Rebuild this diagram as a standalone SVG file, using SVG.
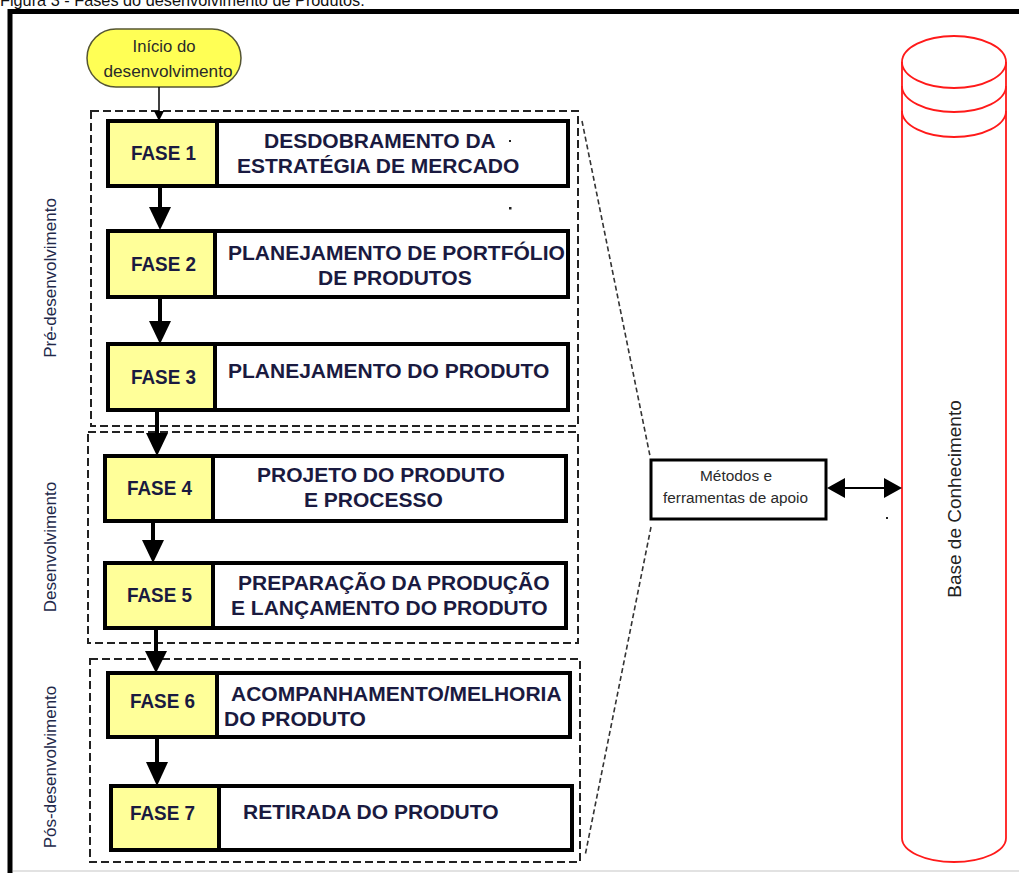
<svg xmlns="http://www.w3.org/2000/svg" width="1019" height="873" viewBox="0 0 1019 873">
<style>
.cap{font-family:"Liberation Sans",Arial,sans-serif;font-size:16.3px;fill:#111}
.fase{font-family:"Liberation Sans",Arial,sans-serif;font-size:20px;font-weight:bold;fill:#1a1a40}
.desc{font-family:"Liberation Sans",Arial,sans-serif;font-size:21px;font-weight:bold;fill:#1a1a40}
.small{font-family:"Liberation Sans",Arial,sans-serif;font-size:17px;fill:#2a2a2a}
.side{font-family:"Liberation Sans",Arial,sans-serif;font-size:17px;fill:#22284a}
.yel{fill:#ffff99;stroke:#000;stroke-width:4}
.wht{fill:#fff;stroke:#000;stroke-width:4}
.grp{fill:none;stroke:#222;stroke-width:2;stroke-dasharray:8 4}
.diag{fill:none;stroke:#333;stroke-width:1.6;stroke-dasharray:5 3}
.flow{stroke:#000;stroke-width:4;fill:none}
.cyl{fill:none;stroke:#ff1a1a;stroke-width:1.8}
</style>
<rect width="1019" height="873" fill="#fff"/>
<text class="cap" x="0" y="6">Figura 3 - Fases do desenvolvimento de Produtos.</text>
<rect x="10" y="11.5" width="1020" height="870" fill="none" stroke="#000" stroke-width="5"/>
<line x1="13" y1="871" x2="1019" y2="871" stroke="#d8d8d8" stroke-width="1.5"/>

<g id="groups">
<rect class="grp" x="91" y="111" width="487" height="315"/>
<rect class="grp" x="88" y="432" width="490" height="211"/>
<rect class="grp" x="90" y="659" width="490" height="203"/>
<text class="side" transform="translate(56,278) rotate(-90)" text-anchor="middle">Pré-desenvolvimento</text>
<text class="side" transform="translate(56,547) rotate(-90)" text-anchor="middle">Desenvolvimento</text>
<text class="side" transform="translate(56,767) rotate(-90)" text-anchor="middle">Pós-desenvolvimento</text>
</g>

<g id="start">
<rect x="87" y="29" width="154" height="58" rx="29" ry="29" fill="#ffff55" stroke="#555533" stroke-width="1.5"/>
<text class="small" x="164" y="52" text-anchor="middle" textLength="63" lengthAdjust="spacingAndGlyphs">Início do</text>
<text class="small" x="168" y="77" text-anchor="middle" textLength="129" lengthAdjust="spacingAndGlyphs">desenvolvimento</text>
</g>

<g id="fase1">
<rect class="wht" x="108" y="121" width="460" height="65"/>
<rect class="yel" x="108" y="121" width="109" height="65"/>
<text class="fase" x="131" y="160" textLength="65" lengthAdjust="spacingAndGlyphs">FASE 1</text>
<text class="desc" x="264" y="148">DESDOBRAMENTO DA</text>
<text class="desc" x="237" y="173">ESTRATÉGIA DE MERCADO</text>
</g>
<g id="fase2">
<rect class="wht" x="108" y="231" width="460" height="66"/>
<rect class="yel" x="108" y="231" width="107" height="66"/>
<text class="fase" x="131" y="271" textLength="65" lengthAdjust="spacingAndGlyphs">FASE 2</text>
<text class="desc" x="228" y="260">PLANEJAMENTO DE PORTFÓLIO</text>
<text class="desc" x="318" y="285">DE PRODUTOS</text>
</g>
<g id="fase3">
<rect class="wht" x="108" y="344" width="460" height="66"/>
<rect class="yel" x="108" y="344" width="107" height="66"/>
<text class="fase" x="131" y="384" textLength="65" lengthAdjust="spacingAndGlyphs">FASE 3</text>
<text class="desc" x="228" y="378">PLANEJAMENTO DO PRODUTO</text>
</g>
<g id="fase4">
<rect class="wht" x="105" y="456" width="461" height="65"/>
<rect class="yel" x="105" y="456" width="108" height="65"/>
<text class="fase" x="127" y="495" textLength="65" lengthAdjust="spacingAndGlyphs">FASE 4</text>
<text class="desc" x="257" y="482">PROJETO DO PRODUTO</text>
<text class="desc" x="304" y="507">E PROCESSO</text>
</g>
<g id="fase5">
<rect class="wht" x="105" y="563" width="461" height="65"/>
<rect class="yel" x="105" y="563" width="108" height="65"/>
<text class="fase" x="127" y="602" textLength="65" lengthAdjust="spacingAndGlyphs">FASE 5</text>
<text class="desc" x="238" y="590">PREPARAÇÃO DA PRODUÇÃO</text>
<text class="desc" x="231" y="615">E LANÇAMENTO DO PRODUTO</text>
</g>
<g id="fase6">
<rect class="wht" x="108" y="673" width="462" height="64"/>
<rect class="yel" x="108" y="673" width="109" height="64"/>
<text class="fase" x="130" y="708" textLength="65" lengthAdjust="spacingAndGlyphs">FASE 6</text>
<text class="desc" x="231" y="701">ACOMPANHAMENTO/MELHORIA</text>
<text class="desc" x="224" y="726">DO PRODUTO</text>
</g>
<g id="fase7">
<rect class="wht" x="111" y="786" width="461" height="64"/>
<rect class="yel" x="111" y="786" width="108" height="64"/>
<text class="fase" x="130" y="820" textLength="65" lengthAdjust="spacingAndGlyphs">FASE 7</text>
<text class="desc" x="243" y="819">RETIRADA DO PRODUTO</text>
</g>

<g id="metodos">
<rect x="651" y="460" width="175" height="59" fill="#fff" stroke="#000" stroke-width="3"/>
<text class="small" x="736" y="481" text-anchor="middle" textLength="72" lengthAdjust="spacingAndGlyphs" style="font-size:15.5px">Métodos e</text>
<text class="small" x="735.5" y="503" text-anchor="middle" textLength="145" lengthAdjust="spacingAndGlyphs" style="font-size:15.5px">ferramentas de apoio</text>
</g>

<g id="base">
<path class="cyl" d="M902,62 L902,838 A52,24 0 0 0 1006,838 L1006,62" fill="#fff"/>
<ellipse class="cyl" cx="954" cy="62" rx="52" ry="26"/>
<path class="cyl" d="M902,86 A52,26 0 0 0 1006,86 M902,111 A52,26 0 0 0 1006,111"/>
<text transform="translate(961,499) rotate(-90)" text-anchor="middle" font-family="Liberation Sans, Arial, sans-serif" font-size="19" fill="#222">Base de Conhecimento</text>
</g>

<g id="connectors">
<line x1="159" y1="87" x2="159" y2="113" stroke="#000" stroke-width="1.5"/>
<polygon points="154,111 164,111 159,121" fill="#000"/>
<line class="flow" x1="160" y1="186" x2="160" y2="209"/>
<polygon points="149,207 171,207 160,230" fill="#000"/>
<line class="flow" x1="160" y1="297" x2="160" y2="323"/>
<polygon points="149,321 171,321 160,344" fill="#000"/>
<line class="flow" x1="157" y1="410" x2="157" y2="435"/>
<polygon points="146,433 168,433 157,456" fill="#000"/>
<line class="flow" x1="153" y1="521" x2="153" y2="542"/>
<polygon points="142,540 164,540 153,563" fill="#000"/>
<line class="flow" x1="156" y1="628" x2="156" y2="653"/>
<polygon points="145,651 167,651 156,673" fill="#000"/>
<line class="flow" x1="157" y1="737" x2="157" y2="764"/>
<polygon points="146,762 168,762 157,786" fill="#000"/>
<line class="diag" x1="582" y1="121" x2="650" y2="456"/>
<line class="diag" x1="651" y1="527" x2="585" y2="856"/>
<line x1="843" y1="488" x2="886" y2="488" stroke="#000" stroke-width="2"/>
<polygon points="827,488 845,478 845,498" fill="#000"/>
<polygon points="902,488 884,478 884,498" fill="#000"/>
</g>

<g id="dots" fill="#222">
<rect x="509" y="140" width="2" height="2"/>
<rect x="509" y="207" width="2.5" height="2.5"/>
<rect x="886" y="517" width="2" height="2"/>
</g>
</svg>
